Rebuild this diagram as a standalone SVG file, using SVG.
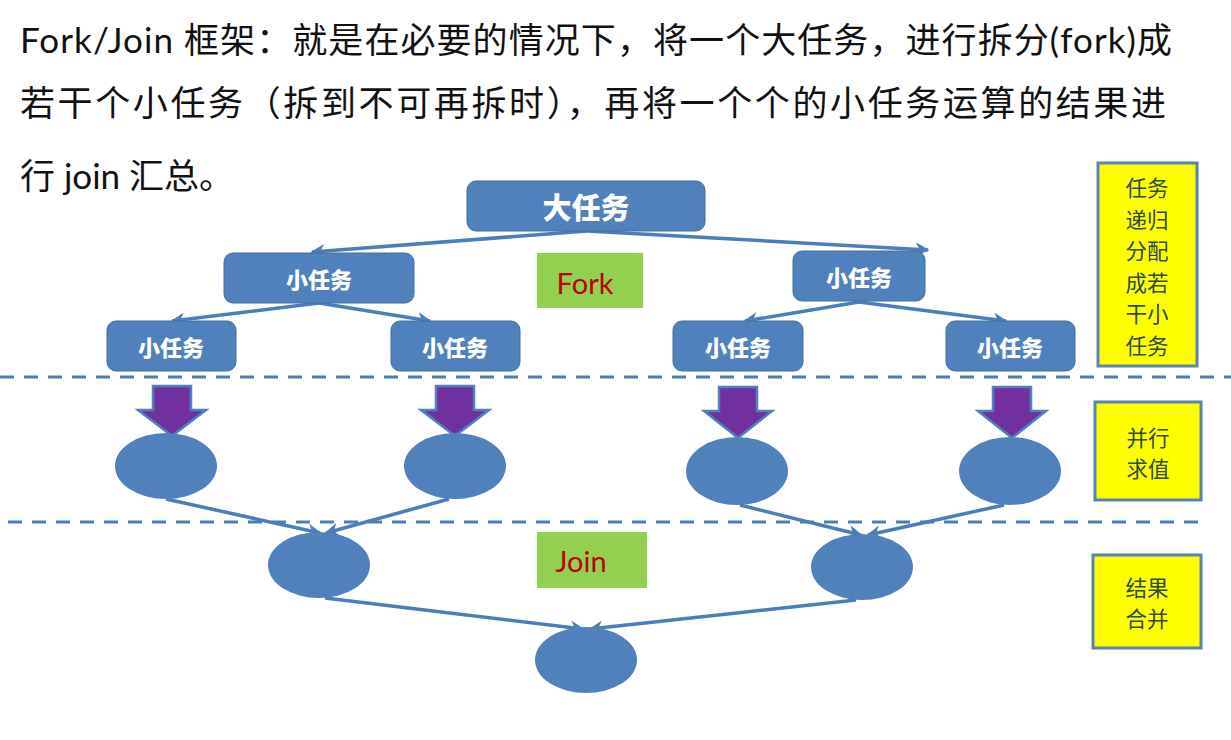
<svg xmlns="http://www.w3.org/2000/svg" width="1231" height="740" viewBox="0 0 1231 740">
<defs>
<style>
.title{font-family:Lato,"Noto Sans CJK SC",sans-serif;font-size:35px;fill:#111}
.box{fill:#4F81BD;stroke:#41719C;stroke-width:1}
.lbl{font-family:"Noto Sans CJK SC",sans-serif;font-weight:900;fill:#fff;text-anchor:middle;dominant-baseline:central}
.conn{stroke:#4A7EBB;stroke-width:3.5;fill:none;marker-end:url(#ah)}
.dash{stroke:#4A7EBB;stroke-width:3;stroke-dasharray:14 10}
.darrow{fill:#7030A0;stroke:#4F81BD;stroke-width:2.5}
.ell{fill:#4F81BD}
.green{fill:#92D050}
.red{font-family:Lato,"Noto Sans",sans-serif;font-size:29px;fill:#C00000;text-anchor:middle;dominant-baseline:central}
.ybox{fill:#FFFF00;stroke:#5B83B0;stroke-width:3}
.ytxt{font-family:"Noto Sans CJK SC",sans-serif;font-size:21.5px;fill:#2E4A3A;text-anchor:middle}
</style>
<marker id="ah" viewBox="0 0 10 10" refX="9" refY="5" markerWidth="4" markerHeight="4" orient="auto" markerUnits="strokeWidth">
<path d="M0,0 L10,5 L0,10 L3,5 Z" fill="#4A7EBB"/>
</marker>
</defs>
<rect width="1231" height="740" fill="#fff"/>
<g id="title">
<text class="title" x="20" y="53" textLength="1152" lengthAdjust="spacing">Fork/Join 框架：就是在必要的情况下，将一个大任务，进行拆分(fork)成</text>
<text class="title" x="20" y="116" textLength="1146" lengthAdjust="spacing">若干个小任务（拆到不可再拆时），再将一个个的小任务运算的结果进</text>
<text class="title" x="20" y="189">行 join 汇总。</text>
</g>
<g id="separators">
<line class="dash" x1="0" y1="377" x2="1231" y2="377"/>
<line class="dash" x1="8" y1="522" x2="1200" y2="522"/>
</g>
<g id="connectors">
<line class="conn" x1="587" y1="231" x2="312" y2="252"/>
<line class="conn" x1="587" y1="231" x2="928" y2="250"/>
<line class="conn" x1="319" y1="303" x2="172" y2="321"/>
<line class="conn" x1="319" y1="303" x2="430" y2="321"/>
<line class="conn" x1="859" y1="302" x2="745" y2="321"/>
<line class="conn" x1="859" y1="302" x2="1006" y2="321"/>
<line class="conn" x1="166" y1="499" x2="320" y2="533"/>
<line class="conn" x1="449" y1="499" x2="326" y2="533"/>
<line class="conn" x1="740" y1="505" x2="861" y2="535"/>
<line class="conn" x1="1004" y1="505" x2="868" y2="535"/>
<line class="conn" x1="325" y1="598" x2="583" y2="629"/>
<line class="conn" x1="856" y1="600" x2="590" y2="629"/>
</g>
<g id="big-task">
<rect class="box" x="467" y="181" width="238" height="50" rx="9"/>
<text class="lbl" x="586" y="206" font-size="29">大任务</text>
</g>
<g id="task-l1-left">
<rect class="box" x="224" y="253" width="190" height="50" rx="9"/>
<text class="lbl" x="319" y="278" font-size="22">小任务</text>
</g>
<g id="task-l1-right">
<rect class="box" x="793" y="251" width="132" height="50" rx="9"/>
<text class="lbl" x="859" y="276" font-size="22">小任务</text>
</g>
<g id="task-a">
<rect class="box" x="107" y="321" width="129" height="50" rx="9"/>
<text class="lbl" x="171" y="346" font-size="22">小任务</text>
</g>
<g id="task-b">
<rect class="box" x="391" y="321" width="129" height="50" rx="9"/>
<text class="lbl" x="455" y="346" font-size="22">小任务</text>
</g>
<g id="task-c">
<rect class="box" x="673" y="321" width="130" height="50" rx="9"/>
<text class="lbl" x="738" y="346" font-size="22">小任务</text>
</g>
<g id="task-d">
<rect class="box" x="946" y="321" width="129" height="50" rx="9"/>
<text class="lbl" x="1010" y="346" font-size="22">小任务</text>
</g>
<g id="fork-label">
<rect class="green" x="537" y="253" width="106" height="55"/>
<text class="red" x="585" y="282">Fork</text>
</g>
<g id="join-label">
<rect class="green" x="537" y="532" width="110" height="56"/>
<text class="red" x="581" y="560">Join</text>
</g>
<g id="down-arrows">
<polygon class="darrow" points="153,386 191,386 191,410 206,410 172,436 138,410 153,410"/>
<polygon class="darrow" points="436,386 474,386 474,410 489,410 455,436 421,410 436,410"/>
<polygon class="darrow" points="719,387 757,387 757,411 772,411 738,438 704,411 719,411"/>
<polygon class="darrow" points="993,387 1031,387 1031,411 1046,411 1012,438 978,411 993,411"/>
</g>
<g id="compute-1"><ellipse class="ell" cx="166" cy="466" rx="51" ry="33"/></g>
<g id="compute-2"><ellipse class="ell" cx="455" cy="466" rx="51" ry="33"/></g>
<g id="compute-3"><ellipse class="ell" cx="737" cy="471" rx="51" ry="34"/></g>
<g id="compute-4"><ellipse class="ell" cx="1010" cy="471" rx="51" ry="34"/></g>
<g id="join-1"><ellipse class="ell" cx="319" cy="565" rx="51" ry="33"/></g>
<g id="join-2"><ellipse class="ell" cx="862" cy="567" rx="51" ry="33"/></g>
<g id="result"><ellipse class="ell" cx="586" cy="660" rx="51" ry="33"/></g>
<g id="note-split">
<rect class="ybox" x="1098" y="163" width="99" height="203"/>
<text class="ytxt" x="1147" y="196">任务</text>
<text class="ytxt" x="1147" y="227.5">递归</text>
<text class="ytxt" x="1147" y="259">分配</text>
<text class="ytxt" x="1147" y="290.5">成若</text>
<text class="ytxt" x="1147" y="322">干小</text>
<text class="ytxt" x="1147" y="353.5">任务</text>
</g>
<g id="note-parallel">
<rect class="ybox" x="1095" y="402" width="106" height="98"/>
<text class="ytxt" x="1148" y="446">并行</text>
<text class="ytxt" x="1148" y="477">求值</text>
</g>
<g id="note-merge">
<rect class="ybox" x="1093" y="555" width="108" height="93"/>
<text class="ytxt" x="1147" y="596">结果</text>
<text class="ytxt" x="1147" y="627">合并</text>
</g>
</svg>
